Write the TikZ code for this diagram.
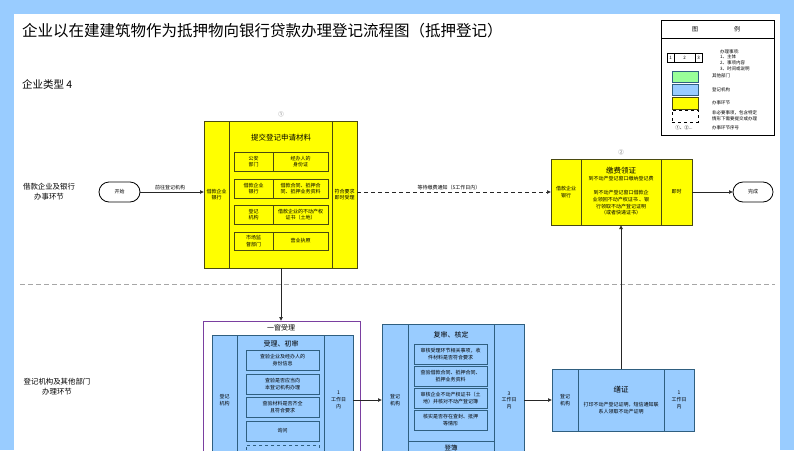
\documentclass[tikz,border=0pt]{standalone}
\usepackage{fontspec}
\setmainfont{Noto Sans CJK SC}
\usetikzlibrary{arrows.meta}
\definecolor{pageblue}{HTML}{99CCFF}
\definecolor{boxblue}{HTML}{99CCFF}
\definecolor{edgeblue}{HTML}{2F5F80}
\definecolor{boxyellow}{HTML}{FFFF00}
\definecolor{edgeyellow}{HTML}{4A4A10}
\definecolor{boxgreen}{HTML}{99FF99}
\definecolor{windowpurple}{HTML}{7A3FA0}
% \bx{name}{x1}{y1}{x2}{y2}{style}{text}
\newcommand{\bx}[7]{%
  \pgfmathsetmacro{\bxw}{#4-#2}\pgfmathsetmacro{\bxh}{#5-#3}%
  \pgfmathsetmacro{\bxx}{(#2+#4)/2}\pgfmathsetmacro{\bxy}{(#3+#5)/2}%
  \node[#6,minimum width=\bxw pt,minimum height=\bxh pt] (#1) at (\bxx,\bxy) {#7};}
\tikzset{
  x=1pt,y=-1pt,
  every node/.style={inner sep=0pt,outer sep=0pt,align=center,text=black,font=\fontsize{5}{6.6}\selectfont},
  yel/.style={draw=edgeyellow,fill=boxyellow,line width=1pt},
  blu/.style={draw=edgeblue,fill=boxblue,line width=1pt},
  grn/.style={draw=edgeblue,fill=boxgreen,line width=.7pt},
  plainbox/.style={draw=black,fill=white,line width=.7pt},
  dashbox/.style={draw=edgeblue,dashed,line width=1pt},
  terminal/.style={draw=black,fill=white,rounded corners=10pt,line width=.8pt},
  flow/.style={draw=black!85,line width=.7pt,-{Latex[length=4pt,width=4pt]}},
  waitflow/.style={flow,dash pattern=on 4pt off 3pt},
  label/.style={font=\fontsize{5}{6.6}\selectfont},
  head/.style={font=\fontsize{7.5}{9}\selectfont},
  lane/.style={font=\fontsize{7.4}{10}\selectfont}
}
\begin{document}
\begin{tikzpicture}
\useasboundingbox (0,0) rectangle (794,450);
\clip (0,0) rectangle (794,450);
\fill[pageblue] (0,0) rectangle (794,450);
\fill[white] (14,14) rectangle (780,450);

\node[anchor=west,font=\fontsize{15.5}{18}\selectfont] (title) at (22,31) {企业以在建建筑物作为抵押物向银行贷款办理登记流程图（抵押登记）};
\node[anchor=west,font=\fontsize{10.5}{12}\selectfont] (etype) at (22,84) {企业类型 4};
\node[lane] (laneA) at (49,192) {借款企业及银行\\办事环节};
\node[lane] (laneB) at (57,387) {登记机构及其他部门\\办理环节};
\draw[draw=black!35,line width=.7pt,dash pattern=on 5pt off 3pt] (20,284) -- (775,284);

% legend
\bx{lg}{661}{20}{774}{135}{plainbox}{}
\draw[black,line width=.7pt] (661,38) -- (774,38);
\node[font=\fontsize{6}{8}\selectfont] (lgA) at (695,29) {图};
\node[font=\fontsize{6}{8}\selectfont] (lgB) at (737,29) {例};
\bx{lgk}{667}{53}{702}{62}{plainbox}{}
\draw[line width=.7pt] (674,53) -- (674,62) (695,53) -- (695,62);
\node[font=\fontsize{4.5}{5}\selectfont] (lg1) at (670.5,57.5) {1};
\node[font=\fontsize{4.5}{5}\selectfont] (lg2) at (684.5,57.5) {2};
\node[font=\fontsize{4.5}{5}\selectfont] (lg3) at (698.5,57.5) {3};
\node[anchor=west,align=left,font=\fontsize{4.5}{5.6}\selectfont] (lgt) at (720,60) {办理事项:\\1、主体\\2、事项内容\\3、时间或说明};
\bx{lgg}{672}{71}{698}{82}{grn}{}
\node[anchor=west,font=\fontsize{4.5}{5.6}\selectfont] (lgt1) at (712,76) {其他部门};
\bx{lgb}{672}{84}{698}{95}{blu}{}
\node[anchor=west,font=\fontsize{4.5}{5.6}\selectfont] (lgt2) at (712,90) {登记机构};
\bx{lgy}{672}{97}{698}{109}{yel}{}
\node[anchor=west,font=\fontsize{4.5}{5.6}\selectfont] (lgt3) at (712,103) {办事环节};
\bx{lgd}{672}{110}{698}{122}{draw=black,dashed,line width=.8pt}{}
\node[anchor=west,align=left,font=\fontsize{4.5}{5.6}\selectfont] (lgt4) at (712,116) {非必要事项，包含特定\\情形下需要提交或办理};
\node[font=\fontsize{4.5}{5.6}\selectfont] (lgt5) at (684,128) {①、②...};
\node[anchor=west,font=\fontsize{4.5}{5.6}\selectfont] (lgt6) at (712,128) {办事环节序号};

% start / end
\bx{start}{99}{182}{140}{202}{terminal}{开始}
\bx{finish}{733}{182}{773}{202}{terminal}{完成}

% step 1 yellow
\node[font=\fontsize{5.5}{7}\selectfont,text=black!60] (n1) at (281,114) {①};
\bx{ya}{204}{121}{357}{268}{yel}{}
\bx{yaL}{204}{121}{229}{268}{yel}{借款企业\\银行}
\bx{yaM}{229}{121}{332}{268}{yel}{}
\bx{yaR}{332}{121}{357}{268}{yel}{符合要求\\即时受理}
\node[head] (yaT) at (281,138) {提交登记申请材料};
\bx{r1a}{234}{152}{273}{171}{yel}{公安\\部门}
\bx{r1b}{273}{152}{328}{171}{yel}{经办人的\\身份证}
\bx{r2a}{234}{179}{273}{198}{yel}{借款企业\\银行}
\bx{r2b}{273}{179}{328}{198}{yel}{借款合同、抵押合\\同、抵押业务资料}
\bx{r3a}{234}{205}{273}{224}{yel}{登记\\机构}
\bx{r3b}{273}{205}{328}{224}{yel}{借款企业的不动产权\\证书（土地）}
\bx{r4a}{234}{232}{273}{250}{yel}{市场监\\督部门}
\bx{r4b}{273}{232}{328}{250}{yel}{营业执照}

% step 2 yellow
\node[font=\fontsize{5.5}{7}\selectfont,text=black!60] (n2) at (621,152) {②};
\bx{yb}{551}{159}{692}{225}{yel}{}
\bx{ybL}{551}{159}{581}{225}{yel}{借款企业\\银行}
\bx{ybM}{581}{159}{661}{225}{yel}{}
\bx{ybR}{661}{159}{692}{225}{yel}{即时}
\node[head] (ybT) at (621,171) {缴费领证};
\node (ybA) at (621,179) {到不动产登记窗口缴纳登记费};
\node (ybB) at (621,203) {到不动产登记窗口借款企\\业领回不动产权证书 、银\\行领取不动产登记证明\\（或者快递证书）};

% one-window
\bx{win}{203}{321}{360}{470}{draw=windowpurple,line width=1pt}{}
\node[font=\fontsize{7}{9}\selectfont] (winT) at (281,328) {一窗受理};
\bx{ba}{212}{335}{353}{470}{blu}{}
\bx{baL}{212}{335}{237}{470}{blu}{}
\bx{baM}{237}{335}{324}{470}{blu}{}
\bx{baR}{324}{335}{353}{470}{blu}{}
\node (baLt) at (224.5,400) {登记\\机构};
\node (baRt) at (338.5,400) {1\\工作日\\内};
\node[font=\fontsize{7}{9}\selectfont] (baT) at (281,344) {受理、初审};
\bx{a1}{246}{350}{319}{370}{blu}{查验企业及经办人的\\身份信息}
\bx{a2}{246}{374}{319}{394}{blu}{查验是否应当向\\本登记机构办理}
\bx{a3}{246}{397}{319}{417}{blu}{查验材料是否齐全\\且符合要求}
\bx{a4}{246}{421}{319}{441}{blu}{询问}
\bx{a5}{246}{445}{319}{465}{dashbox}{}

% review
\bx{bb}{382}{324}{524}{470}{blu}{}
\bx{bbL}{382}{324}{408}{470}{blu}{}
\bx{bbM}{408}{324}{494}{441}{blu}{}
\bx{bbN}{408}{441}{494}{470}{blu}{}
\bx{bbR}{494}{324}{524}{470}{blu}{}
\node (bbLt) at (395,400) {登记\\机构};
\node (bbRt) at (509,400) {3\\工作日\\内};
\node[font=\fontsize{7}{9}\selectfont] (bbT) at (451,335) {复审、核定};
\bx{b1}{414}{344}{487}{364}{blu}{审核受理环节相关事项，收\\件材料是否符合要求}
\bx{b2}{414}{366}{487}{386}{blu}{查验借款合同、抵押合同、\\抵押业务资料}
\bx{b3}{414}{388}{487}{408}{blu}{审核企业不动产权证书（土\\地）并核对不动产登记簿}
\bx{b4}{414}{410}{487}{430}{blu}{核实是否存在查封、抵押\\等情形}
\node[font=\fontsize{6.5}{8}\selectfont] (b5) at (451,448) {登簿};

% certificate
\bx{bc}{552}{369}{694}{431}{blu}{}
\bx{bcL}{552}{369}{578}{431}{blu}{登记\\机构}
\bx{bcM}{578}{369}{664}{431}{blu}{}
\bx{bcR}{664}{369}{694}{431}{blu}{1\\工作日\\内}
\node[head] (bcT) at (621,390) {缮证};
\node (bcD) at (621,408) {打印不动产登记证明，短信通知联\\系人领取不动产证明};

% connectors
\draw[flow] (start.east) -- (start.east -| ya.west);
\node[label,anchor=south] (l1) at (170,190) {前往登记机构};
\draw[waitflow] (ya.east |- start) -- (yb.west |- start);
\node[label,anchor=south] (l2) at (449,190) {等待缴费通知（5工作日内）};
\draw[flow] (yb.east |- finish) -- (finish.west);
\draw[flow] (ya.south -| winT) -- (win.north -| winT);
\draw[flow] (ba.east |- baLt) -- (bb.west |- baLt);
\draw[flow] (bb.east |- baLt) -- (bc.west |- baLt);
\draw[flow] (bc.north -| ybT) -- (yb.south -| ybT);
\end{tikzpicture}
\end{document}
